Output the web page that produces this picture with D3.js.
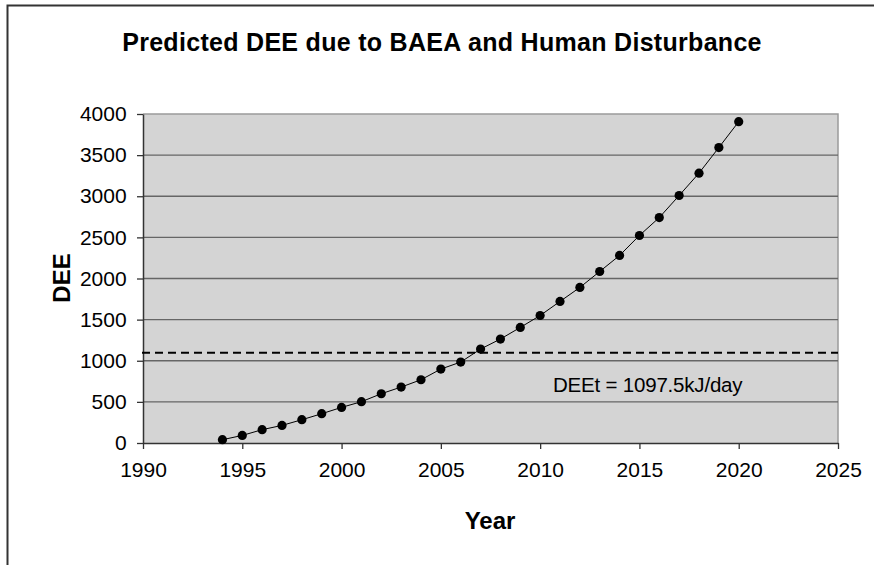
<!DOCTYPE html>
<html><head><meta charset="utf-8">
<script src="https://cdn.jsdelivr.net/npm/d3@7"></script>
<style>body{margin:0;background:#fff}svg{display:block;font-family:Arial,"Liberation Sans",sans-serif}</style>
</head><body><svg id="c" width="874" height="565"></svg>
<script>
const years = [1994,1995,1996,1997,1998,1999,2000,2001,2002,2003,2004,2005,2006,2007,2008,2009,2010,2011,2012,2013,2014,2015,2016,2017,2018,2019,2020];
const dee = [40,92,162,214,283,356,433,502,599,680,769,899,984,1142,1264,1405,1550,1721,1891,2085,2280,2523,2741,3009,3281,3592,3907];
const threshold = 1097.5;
const thresholdLabel = "DEEt = 1097.5kJ/day";
const xTicks = [1990,1995,2000,2005,2010,2015,2020,2025];
const yTicks = [0,500,1000,1500,2000,2500,3000,3500,4000];
const title = "Predicted DEE due to BAEA and Human Disturbance";

const svg = d3.select("#c");
const L=143, R=838, T=114, B=443;
const x = d3.scaleLinear().domain([1990,2025]).range([L,R]);
const y = d3.scaleLinear().domain([0,4000]).range([B,T]);

// outer frame
svg.append("path").attr("d",`M7.5,565 V5.5 H874`).attr("fill","none").attr("stroke","#333").attr("stroke-width",2);

// plot bg
svg.append("rect").attr("x",L).attr("y",T).attr("width",R-L).attr("height",B-T).attr("fill","#d4d4d4");
// plot border top/right
svg.append("path").attr("d",`M${L},${T} H${R} V${B}`).attr("fill","none").attr("stroke","#9a9a9a").attr("stroke-width",1.5);

// gridlines
svg.append("g").selectAll("line").data(yTicks.filter(d=>d>0&&d<4000)).join("line")
  .attr("x1",L).attr("x2",R).attr("y1",d=>y(d)).attr("y2",d=>y(d))
  .attr("stroke","#666").attr("stroke-width",1.3);

// axes
const gx = svg.append("g").attr("transform",`translate(0,${B})`)
  .call(d3.axisBottom(x).tickValues(xTicks).tickFormat(d3.format("d")).tickSize(6).tickSizeOuter(0));
const gy = svg.append("g").attr("transform",`translate(${L},0)`)
  .call(d3.axisLeft(y).tickValues(yTicks).tickFormat(d3.format("d")).tickSize(6).tickSizeOuter(0));
[gx,gy].forEach(g=>{
  g.select(".domain").attr("stroke","#333").attr("stroke-width",1.5);
  g.selectAll(".tick line").attr("stroke","#333").attr("stroke-width",1.3);
  g.selectAll(".tick text").attr("font-family","Arial,'Liberation Sans',sans-serif").attr("font-size",21).attr("fill","#000");
});
gx.selectAll(".tick text").attr("dy","1.2em");
gy.selectAll(".tick text").attr("dx","-0.35em");

// threshold dashed line
svg.append("line").attr("x1",L-1).attr("x2",R).attr("y1",y(threshold)).attr("y2",y(threshold))
  .attr("stroke","#000").attr("stroke-width",2).attr("stroke-dasharray","8,5");
svg.append("text").attr("x",553).attr("y",392).attr("font-size",20.5).attr("letter-spacing",-0.2)
  .text(thresholdLabel);

// data line
svg.append("path").datum(years.map((d,i)=>[d,dee[i]]))
  .attr("d",d3.line().x(d=>x(d[0])).y(d=>y(d[1])))
  .attr("fill","none").attr("stroke","#000").attr("stroke-width",1);
svg.append("g").selectAll("circle").data(years.map((d,i)=>[d,dee[i]])).join("circle")
  .attr("cx",d=>x(d[0])).attr("cy",d=>y(d[1])).attr("r",4.6).attr("fill","#000");

// titles
svg.append("text").attr("x",442).attr("y",51).attr("text-anchor","middle")
  .attr("font-size",25).attr("font-weight","bold").attr("letter-spacing",0.3).text(title);
svg.append("text").attr("x",490).attr("y",529).attr("text-anchor","middle")
  .attr("font-size",24).attr("font-weight","bold").text("Year");
svg.append("text").attr("transform",`translate(70,278) rotate(-90)`).attr("text-anchor","middle")
  .attr("font-size",24).attr("font-weight","bold").text("DEE");
</script></body></html>
